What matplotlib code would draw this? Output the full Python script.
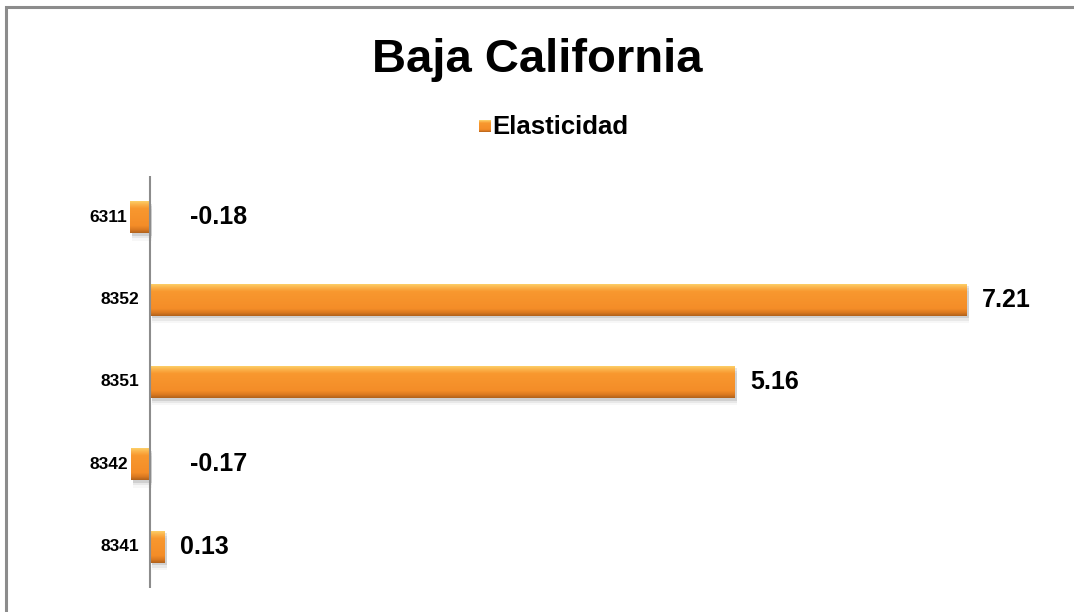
import numpy as np
import matplotlib
matplotlib.use("Agg")
import matplotlib.pyplot as plt
from matplotlib.patches import Rectangle
from matplotlib.colors import LinearSegmentedColormap

plt.rcParams['font.family'] = ['Liberation Sans', 'DejaVu Sans']
plt.rcParams['font.weight'] = 'bold'

categories = ['6311', '8352', '8351', '8342', '8341']
values = [-0.18, 7.21, 5.16, -0.17, 0.13]
labels = ['-0.18', '7.21', '5.16', '-0.17', '0.13']
title = 'Baja California'
series_name = 'Elasticidad'

W, H = 1074, 612
fig = plt.figure(figsize=(W / 100, H / 100), dpi=100)

# chart border (only top and left visible in the reference)
fig.patches.append(Rectangle((6 / W, -0.1), 1.2, 1 - 7 / H + 0.1,
                             transform=fig.transFigure, fill=False,
                             edgecolor='#8c8c8c', lw=2.2))

# axes: zero at x=150px, 7.21 at x=967px; y from 176 to 588
px_per_unit = (967 - 150) / 7.21
xmin, xmax = -0.5, 8.0
left = 150 - (-xmin) * px_per_unit
right = 150 + xmax * px_per_unit
top, bottom = 176, 588
ax = fig.add_axes([left / W, 1 - bottom / H, (right - left) / W, (bottom - top) / H])

grad = LinearSegmentedColormap.from_list('bar', [
    (0.0, '#fdd66f'), (0.12, '#fbb44c'), (0.25, '#f8982f'),
    (0.78, '#f48d28'), (0.9, '#dc7a21'), (1.0, '#b2631c')])
g = np.linspace(0, 1, 64).reshape(-1, 1)

y = np.arange(len(categories))
bh = 0.39
bars = ax.barh(y, values, height=bh, color='none', zorder=3)
for b in bars:
    x0, y0 = b.get_x(), b.get_y()
    w, h = b.get_width(), b.get_height()
    # soft shadow
    for k, a in enumerate([0.10, 0.06, 0.03]):
        ax.add_patch(Rectangle((x0 + 0.02, y0 + 0.03 * (k + 1)), w, h,
                               color='#000000', alpha=a, lw=0, zorder=2))
    im = ax.imshow(g, cmap=grad, aspect='auto', zorder=3,
                   extent=[min(x0, x0 + w), max(x0, x0 + w), y0 + h, y0])
    im.set_clip_path(Rectangle((x0, y0), w, h, transform=ax.transData))
ax.set_xlim(xmin, xmax)
ax.set_ylim(len(categories) - 0.5, -0.5)

for yi, v, lab, cat in zip(y, values, labels, categories):
    if v >= 0:
        ax.annotate(lab, (v, yi), xytext=(11, 0), textcoords='offset points',
                    ha='left', va='center', fontsize=18, fontweight='bold')
        ax.annotate(cat, (0, yi), xytext=(-7.5, 0), textcoords='offset points',
                    ha='right', va='center', fontsize=12.5, fontweight='bold')
    else:
        ax.annotate(lab, (0, yi), xytext=(29, 0), textcoords='offset points',
                    ha='left', va='center', fontsize=18, fontweight='bold')
        ax.annotate(cat, (v, yi), xytext=(-2, 0), textcoords='offset points',
                    ha='right', va='center', fontsize=12.5, fontweight='bold')

ax.set_xticks([])
ax.set_yticks([])
for s in ['top', 'right', 'bottom', 'left']:
    ax.spines[s].set_visible(False)
ax.axvline(0, color='#8c8c8c', lw=1.5, zorder=4)
ax.set_facecolor('none')

fig.text(0.5, 1 - 60 / H, title, ha='center', va='center',
         fontsize=34, fontweight='bold')

# legend
lax = fig.add_axes([479 / W, 1 - 132 / H, 12 / W, 12 / H])
lax.imshow(g, cmap=grad, aspect='auto', extent=[0, 1, 1, 0])
lax.axis('off')
fig.text(492 / W, 1 - 127 / H, series_name, ha='left', va='center',
         fontsize=18.5, fontweight='bold')

fig.savefig('out.png', dpi=100)
